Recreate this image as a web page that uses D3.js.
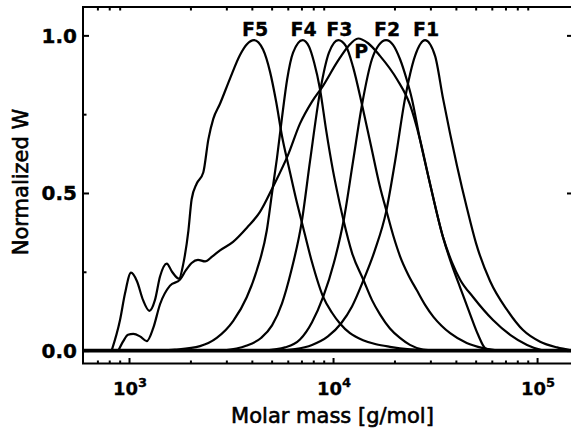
<!DOCTYPE html>
<html>
<head>
<meta charset="utf-8">
<script src="https://cdn.jsdelivr.net/npm/d3@7"></script>
<style>
  html, body { margin: 0; padding: 0; background: #fff; }
  svg { display: block; }
  text { font-family: "DejaVu Sans", sans-serif; fill: #000; }
</style>
</head>
<body>
<svg id="chart" width="571" height="432"></svg>
<script>
// Molar mass distributions: log10(M) and normalized weight fraction W
const seriesNames = ["F5", "F4", "F3", "F2", "F1", "P"];

const F5 = [[2.915,0],[2.956,0.097],[2.980,0.18],[3.010,0.247],[3.039,0.22],[3.069,0.16],[3.100,0.126],
  [3.127,0.16],[3.152,0.235],[3.185,0.276],[3.211,0.25],[3.245,0.228],[3.266,0.275],[3.291,0.38],
  [3.307,0.48],[3.332,0.53],[3.364,0.565],[3.389,0.67],[3.413,0.735],[3.446,0.783],[3.495,0.863],
  [3.544,0.938],[3.578,0.972],[3.613,0.985],[3.657,0.955],[3.691,0.885],[3.721,0.79],[3.750,0.68],
  [3.784,0.58],[3.819,0.48],[3.848,0.405],[3.897,0.28],[3.951,0.171],[3.995,0.12],[4.034,0.086],
  [4.083,0.055],[4.147,0.033],[4.211,0.02],[4.279,0.012],[4.377,0.004],[4.475,0]];

const F4 = [[3.15,0],[3.225,0.003],[3.348,0.014],[3.430,0.04],[3.511,0.094],[3.577,0.169],[3.626,0.254],
  [3.675,0.38],[3.701,0.5],[3.725,0.61],[3.750,0.74],[3.775,0.86],[3.804,0.945],[3.851,0.985],
  [3.882,0.965],[3.907,0.915],[3.936,0.83],[3.966,0.7],[4.000,0.57],[4.025,0.49],[4.051,0.414],
  [4.093,0.31],[4.149,0.224],[4.191,0.16],[4.230,0.115],[4.279,0.07],[4.328,0.04],[4.377,0.018],
  [4.441,0.003],[4.500,0]];

const F3 = [[3.461,0],[3.574,0.015],[3.647,0.04],[3.701,0.08],[3.750,0.15],[3.794,0.25],[3.847,0.41],
  [3.887,0.6],[3.936,0.82],[3.980,0.945],[4.026,0.985],[4.064,0.965],[4.098,0.9],[4.142,0.78],
  [4.186,0.65],[4.230,0.52],[4.261,0.445],[4.295,0.365],[4.328,0.3],[4.369,0.24],[4.410,0.192],
  [4.451,0.145],[4.492,0.107],[4.533,0.078],[4.574,0.055],[4.655,0.024],[4.735,0.008],[4.819,0]];

const F2 = [[3.667,0],[3.765,0.01],[3.838,0.035],[3.897,0.09],[3.952,0.171],[4.005,0.28],[4.054,0.42],
  [4.098,0.6],[4.142,0.78],[4.191,0.925],[4.225,0.97],[4.260,0.985],[4.294,0.97],[4.328,0.925],
  [4.361,0.86],[4.386,0.8],[4.426,0.67],[4.475,0.53],[4.539,0.36],[4.583,0.27],[4.623,0.2],
  [4.672,0.115],[4.711,0.05],[4.745,0.008],[4.779,0]];

const F1 = [[3.716,0],[3.814,0.005],[3.897,0.018],[3.975,0.045],[4.039,0.086],[4.093,0.14],[4.147,0.22],
  [4.206,0.32],[4.260,0.44],[4.304,0.6],[4.353,0.8],[4.402,0.935],[4.451,0.985],[4.500,0.935],
  [4.539,0.8],[4.608,0.585],[4.657,0.45],[4.701,0.34],[4.770,0.22],[4.853,0.129],[4.931,0.065],
  [5.015,0.028],[5.098,0.01],[5.176,0]];

const P = [[2.948,0],[2.972,0.03],[2.995,0.05],[3.021,0.053],[3.054,0.045],[3.087,0.03],[3.119,0.072],
  [3.152,0.147],[3.201,0.206],[3.250,0.225],[3.279,0.255],[3.307,0.278],[3.338,0.288],[3.373,0.283],
  [3.407,0.298],[3.446,0.318],[3.510,0.345],[3.578,0.39],[3.642,0.44],[3.706,0.52],[3.779,0.62],
  [3.838,0.72],[3.897,0.79],[3.951,0.84],[4.020,0.915],[4.074,0.965],[4.123,0.99],[4.172,0.975],
  [4.230,0.935],[4.314,0.86],[4.377,0.78],[4.426,0.67],[4.475,0.53],[4.539,0.36],[4.583,0.28],
  [4.623,0.225],[4.686,0.17],[4.784,0.097],[4.868,0.05],[4.951,0.018],[5.029,0]];

const seriesData = [F5, F4, F3, F2, F1, P];

// Axis ticks
const xMajorTicks = [1e3, 1e4, 1e5];
const xMajorExponents = ["3", "4", "5"];
const yMajorTicks = [0, 0.5, 1.0];
const yMajorLabels = ["0.0", "0.5", "1.0"];
const yMinorTicks = [0.25, 0.75];

// ---------------------------------------------------------------
const svg = d3.select("#chart");
const plotLeft = 83, plotRight = 573, plotTop = 7, plotBottom = 363.5;

const x = d3.scaleLog().domain([595, 150000]).range([plotLeft, plotRight]);
const y = d3.scaleLinear().domain([-0.041, 1.09]).range([plotBottom, plotTop]);

// minor log ticks (2..9 per decade) inside the domain
const xMinorTicks = [];
for (let e = 2; e <= 5; e++) {
  for (let m = 2; m <= 9; m++) {
    const v = m * Math.pow(10, e);
    if (v > x.domain()[0] * 1.01 && v < x.domain()[1]) xMinorTicks.push(v);
  }
}

const axisStroke = 2;

// zero line where all distributions rest
svg.append("line")
  .attr("x1", plotLeft).attr("x2", plotRight)
  .attr("y1", y(0)).attr("y2", y(0))
  .attr("stroke", "#000").attr("stroke-width", 3.6);

// distribution curves
const line = d3.line()
  .x(d => x(Math.pow(10, d[0])))
  .y(d => y(d[1]))
  .curve(d3.curveMonotoneX);

svg.append("g")
  .selectAll("path")
  .data(seriesData)
  .join("path")
  .attr("d", line)
  .attr("fill", "none")
  .attr("stroke", "#000")
  .attr("stroke-width", 2.2)
  .attr("stroke-linejoin", "round");

// ticks via d3 axes (inward)
const tickG = svg.append("g");
function tickAxis(axis, tx, ty, size, values) {
  const g = tickG.append("g")
    .attr("transform", `translate(${tx},${ty})`)
    .call(axis.tickValues(values).tickSize(size).tickSizeOuter(0).tickFormat(""));
  g.select(".domain").remove();
  g.selectAll(".tick line").attr("stroke", "#000").attr("stroke-width", axisStroke);
  return g;
}
tickAxis(d3.axisBottom(x), 0, plotBottom, -5.5, xMajorTicks);
tickAxis(d3.axisBottom(x), 0, plotBottom, -3, xMinorTicks);
tickAxis(d3.axisTop(x), 0, plotTop, -3.5, xMinorTicks);
tickAxis(d3.axisLeft(y), plotLeft, 0, -6, yMajorTicks);
tickAxis(d3.axisLeft(y), plotLeft, 0, -3.5, yMinorTicks);
tickAxis(d3.axisRight(y), plotRight, 0, -6, yMajorTicks);

// frame
svg.append("rect")
  .attr("x", plotLeft).attr("y", plotTop)
  .attr("width", plotRight - plotLeft).attr("height", plotBottom - plotTop)
  .attr("fill", "none").attr("stroke", "#000").attr("stroke-width", axisStroke);

// heavier text strokes
function heavy(sel, w) {
  return sel.attr("stroke", "#000").attr("stroke-width", w).attr("stroke-linejoin", "round");
}

// y tick labels
heavy(svg.append("g")
  .selectAll("text")
  .data(yMajorTicks)
  .join("text")
  .attr("x", plotLeft - 6)
  .attr("y", d => y(d))
  .attr("dy", "0.36em")
  .attr("text-anchor", "end")
  .attr("font-size", 20)
  .attr("font-weight", "bold")
  .text((d, i) => yMajorLabels[i]), 0.4);

// x tick labels as powers of ten
const xl = heavy(svg.append("g")
  .selectAll("text")
  .data(xMajorTicks)
  .join("text")
  .attr("x", d => x(d) + 1)
  .attr("y", plotBottom + 31.5)
  .attr("text-anchor", "middle")
  .attr("font-size", 18)
  .attr("font-weight", "bold"), 0.3);
xl.append("tspan").text("10");
xl.append("tspan")
  .attr("dy", -8)
  .attr("font-size", 13)
  .text((d, i) => xMajorExponents[i]);

// axis titles
heavy(svg.append("text")
  .attr("x", 332.5).attr("y", 423)
  .attr("text-anchor", "middle")
  .attr("font-size", 21)
  .text("Molar mass [g/mol]"), 0.6);

heavy(svg.append("text")
  .attr("transform", "translate(28,182) rotate(-90)")
  .attr("text-anchor", "middle")
  .attr("font-size", 21)
  .text("Normalized W"), 0.6);

// series labels at each peak
seriesData.forEach((s, i) => {
  const peak = s.reduce((a, b) => (b[1] > a[1] ? b : a));
  const isParent = seriesNames[i] === "P";
  heavy(svg.append("text")
    .attr("x", x(Math.pow(10, peak[0])) + (isParent ? 3 : 1))
    .attr("y", isParent ? y(peak[1]) + 19 : y(1) + 1)
    .attr("text-anchor", "middle")
    .attr("font-size", 19)
    .attr("font-weight", "bold")
    .text(seriesNames[i]), 0.3);
});
</script>
</body>
</html>
